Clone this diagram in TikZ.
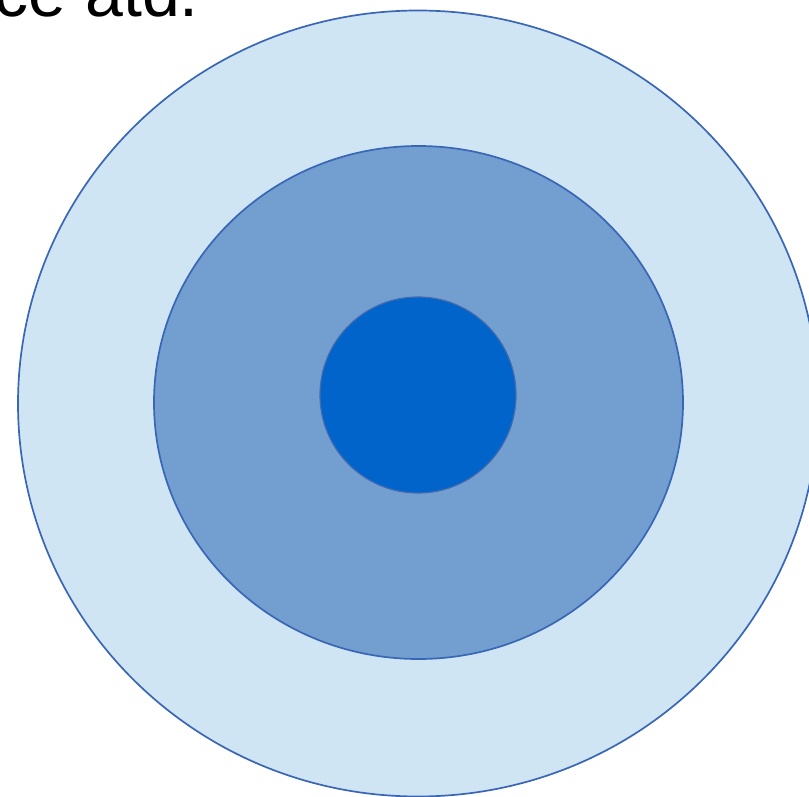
\documentclass[tikz,border=0pt]{standalone}
\usepackage{fontspec}
\setmainfont{Liberation Sans}
\definecolor{outerfill}{HTML}{CFE5F4}
\definecolor{midfill}{HTML}{729FD0}
\definecolor{innerfill}{HTML}{0064CB}
\definecolor{ringline}{HTML}{3A66B6}
\begin{document}
\begin{tikzpicture}[x=1pt,y=-1pt,
  ring/.style={draw=ringline,line width=1.7pt}]
\useasboundingbox (0,0) rectangle (809,797);
\clip (0,0) rectangle (809,797);
\fill[white] (0,0) rectangle (809,797);
\node[anchor=base east,inner sep=0pt,font=\fontsize{68}{80}\selectfont] (txt) at (199,17) {ce atd.};
\path[ring,fill=outerfill] (418,403.5) ellipse [x radius=400,y radius=393];
\path[ring,fill=midfill] (418.5,402.5) ellipse [x radius=264.5,y radius=256.5];
\path[draw=ringline!85!gray,line width=1.2pt,fill=innerfill] (418,395) circle [radius=98];
\end{tikzpicture}
\end{document}
